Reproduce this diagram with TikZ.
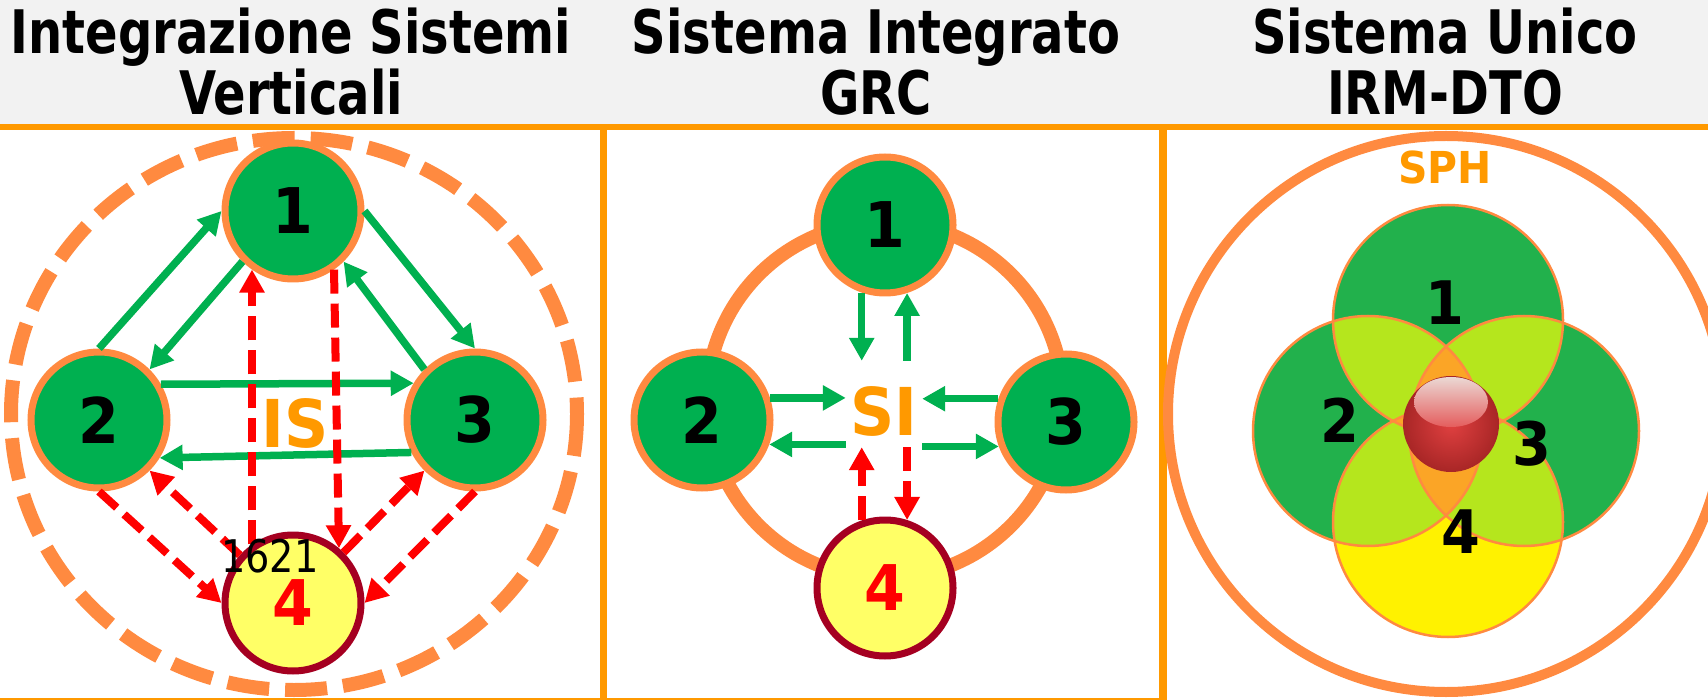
\documentclass[tikz,border=0pt]{standalone}
\usepackage{fontspec}
\usetikzlibrary{arrows.meta}
\newfontfamily\hdfont{DejaVu Sans}[FakeStretch=0.8]
\newfontfamily\lbfont{DejaVu Sans}[FakeStretch=0.93]
\newfontfamily\tagfont{DejaVu Sans}[FakeStretch=0.85]
\definecolor{hdgray}{HTML}{F2F2F2}
\definecolor{amber}{HTML}{FF9900}
\definecolor{ringorange}{HTML}{FF8A40}
\definecolor{nodegreen}{HTML}{00B050}
\definecolor{paleyellow}{HTML}{FFFF66}
\definecolor{darkred}{HTML}{A50021}
\definecolor{venngreen}{HTML}{22B14C}
\definecolor{lightgreen}{HTML}{B5E61D}
\definecolor{vennyellow}{HTML}{FFF200}
\definecolor{vennorange}{HTML}{FBA526}
\definecolor{ballred}{HTML}{E04040}
\definecolor{balldark}{HTML}{A82626}
\definecolor{ballshine}{HTML}{EBD8D4}
\begin{document}
\begin{tikzpicture}[x=1pt,y=-1pt,
    sysnode/.style={circle, draw=ringorange, line width=7pt, fill=nodegreen,
      minimum size=136pt, inner sep=0pt, font=\lbfont\bfseries\fontsize{63}{63}\selectfont},
    extnode/.style={sysnode, draw=darkred, fill=paleyellow, text=red},
    flow/.style={nodegreen, line width=7.5pt, -{Triangle[length=23pt,width=24pt]}},
    ctrl/.style={red, line width=8pt, dash pattern=on 24pt off 10pt,
      -{Triangle[length=23pt,width=24pt]}},
    hub/.style={text=amber, inner sep=0pt, font=\lbfont\bfseries\fontsize{66}{66}\selectfont},
    title/.style={align=center, anchor=north, inner sep=0pt,
      font=\hdfont\bfseries\fontsize{60}{61}\selectfont},
    venn/.style={inner sep=0pt, font=\lbfont\bfseries\fontsize{60}{60}\selectfont}]
  \useasboundingbox (0,0) rectangle (1708,700);
  % header and panels
  \fill[hdgray] (0,0) rectangle (1708,125);
  \node[title] (t1) at (291,8) {Integrazione Sistemi\\Verticali};
  \node[title] (t2) at (876,8) {Sistema Integrato\\GRC};
  \node[title] (t3) at (1445,8) {Sistema Unico\\IRM-DTO};
  \draw[amber, line width=6pt] (0,127) -- (1708,127);
  \draw[amber, line width=2pt] (0,699) -- (1163,699);
  \draw[amber, line width=7pt] (603,127) -- (603,700);
  \draw[amber, line width=8pt] (1163,127) -- (1163,700);

  % vertical systems
  \draw[ringorange, line width=14pt, dash pattern=on 42pt off 16pt]
    (294,414) ellipse[x radius=283, y radius=276];
  \node[sysnode] (a1) at (293,211) {1};
  \node[sysnode] (a2) at (99,420) {2};
  \node[sysnode] (a3) at (475,420) {3};
  \node[extnode] (a4) at (293,603) {4};
  \node[hub] (is) at (295,423) {IS};
  \draw[flow] (a2.90) -- (a1.180);
  \draw[flow] (a1.225) -- (a2.45);
  \draw[flow] (a1.0) -- (a3.90);
  \draw[flow] (a3.135) -- (a1.315);
  \draw[flow] (a2.30) -- (a3.149);
  \draw[flow] (a3.207) -- (a2.328);
  \draw[ctrl] (a4.125) -- (a1.235);
  \draw[ctrl] (a1.305) -- (a4.50);
  \draw[ctrl] (a2.270) -- (a4.180);
  \draw[ctrl] (a4.138) -- (a2.315);
  \draw[ctrl] (a4.45) -- (a3.225);
  \draw[ctrl] (a3.270) -- (a4.0);
  \node[inner sep=0pt, font=\tagfont\fontsize{45}{45}\selectfont] (tag) at (270,556) {1621};

  % integrated system
  \draw[ringorange, line width=14pt] (885,400) circle[radius=178];
  \node[sysnode] (b1) at (885,225) {1};
  \node[sysnode] (b2) at (702,420) {2};
  \node[sysnode] (b3) at (1066,422) {3};
  \node[extnode] (b4) at (885,588) {4};
  \node[hub, minimum width=76pt, minimum height=86pt, text height=64pt] (si) at (884,404) {SI};
  \draw[flow] (b1.251) -- (b1.251 |- si.north);
  \draw[flow] (si.north -| b1.288) -- (b1.288);
  \draw[flow] (b2.18) -- (b2.18 -| si.west);
  \draw[flow] (b2.340 -| si.west) -- (b2.340);
  \draw[flow] (b3.161) -- (b3.161 -| si.east);
  \draw[flow] (b3.200 -| si.east) -- (b3.200);
  \draw[ctrl] (b4.109) -- (b4.109 |- si.south);
  \draw[ctrl] (si.south -| b4.72) -- (b4.72);

  % single system
  \draw[ringorange, line width=10pt] (1446,414) circle[radius=278];
  \node[hub, font=\lbfont\bfseries\fontsize{44}{44}\selectfont] (sph) at (1445,167) {SPH};
  \coordinate (v1) at (1448,320);
  \coordinate (v2) at (1368,431);
  \coordinate (v3) at (1524,431);
  \coordinate (v4) at (1448,522);
  \fill[venngreen] (v1) circle[radius=115] (v2) circle[radius=115] (v3) circle[radius=115];
  \fill[vennyellow] (v4) circle[radius=115];
  \foreach \i/\j in {1/2,1/3,1/4,2/3,2/4,3/4}{
    \begin{scope}
      \clip (v\i) circle[radius=115];
      \fill[lightgreen] (v\j) circle[radius=115];
    \end{scope}
  }
  \foreach \i/\j/\k in {1/2/3,1/2/4,1/3/4,2/3/4}{
    \begin{scope}
      \clip (v\i) circle[radius=115];
      \clip (v\j) circle[radius=115];
      \fill[vennorange] (v\k) circle[radius=115];
    \end{scope}
  }
  \foreach \i in {1,...,4}
    \draw[ringorange, line width=2.5pt] (v\i) circle[radius=115];
  % glossy ball
  \shade[inner color=ballred, outer color=balldark] (1451,424) circle[radius=48];
  \shade[top color=ballshine, bottom color=ballred!85!white] (1451,402) ellipse[x radius=37, y radius=25];
  \node[venn] (n1) at (1445,303) {1};
  \node[venn] (n2) at (1340,420) {2};
  \node[venn] (n3) at (1532,444) {3};
  \node[venn] (n4) at (1461,532) {4};
\end{tikzpicture}
\end{document}
